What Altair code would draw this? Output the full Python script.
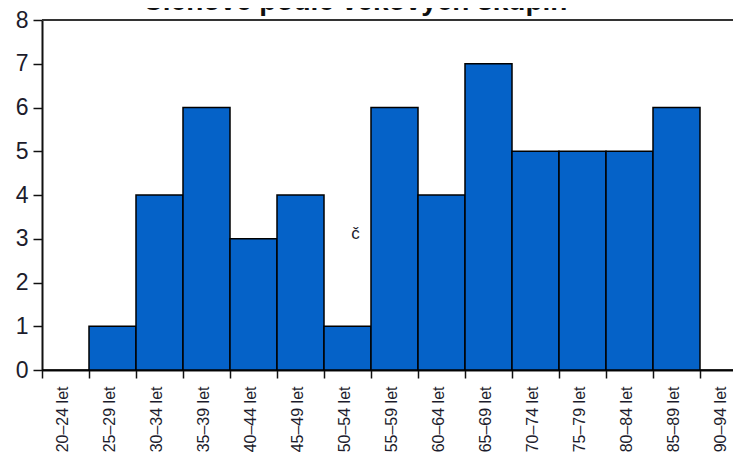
import altair as alt
import pandas as pd

TITLE = "Členové podle věkových skupin"
categories = ["20–24 let", "25–29 let", "30–34 let", "35–39 let", "40–44 let",
              "45–49 let", "50–54 let", "55–59 let", "60–64 let", "65–69 let",
              "70–74 let", "75–79 let", "80–84 let", "85–89 let", "90–94 let"]
values = [0, 1, 4, 6, 3, 4, 1, 6, 4, 7, 5, 5, 5, 6, 0]
y_ticks = [0, 1, 2, 3, 4, 5, 6, 7, 8]

note_text = ["č"]
note_cat = ["50–54 let"]
note_val = [3.0]

df = pd.DataFrame({"cat": categories, "val": values})
notes = pd.DataFrame({"cat": note_cat, "val": note_val, "t": note_text})
title_df = pd.DataFrame({"t": [TITLE]})
top_df = pd.DataFrame({"val": [y_ticks[-1]]})

x_enc = alt.X("cat:N", sort=categories, title=None,
              scale=alt.Scale(paddingInner=0, paddingOuter=0, range=[0, 705]),
              axis=alt.Axis(labelAngle=270, labelAlign="right", labelBaseline="middle",
                            labelFontSize=16, labelFont="Liberation Sans", labelColor="#1c1c2c",
                            labelOffset=-3, labelPadding=8,
                            tickBand="extent", tickSize=8, tickColor="#111", tickWidth=1.5,
                            domainColor="#111", domainWidth=2, labelOverlap=False))
y_enc = alt.Y("val:Q", title=None,
              scale=alt.Scale(domain=[0, 8], nice=False, zero=True),
              axis=alt.Axis(values=y_ticks, grid=False, labelFontSize=23,
                            labelFont="Liberation Sans", labelColor="#1c1c2c",
                            tickSize=9, tickColor="#111", tickWidth=1.5, labelPadding=5,
                            domainColor="#111", domainWidth=2))

bars = alt.Chart(df).mark_bar(color="#0562C8", stroke="#000", strokeWidth=1.5).encode(
    x=x_enc, y=y_enc)

top_line = alt.Chart(top_df).mark_rule(color="#333", strokeWidth=2).encode(
    y=alt.Y("val:Q"), x=alt.value(0), x2=alt.value(705))

note = alt.Chart(notes).mark_text(fontSize=17, font="Liberation Sans", color="#1c1c2c",
                                  baseline="alphabetic", dx=8).encode(
    x=alt.X("cat:N", sort=categories), y=alt.Y("val:Q"), text="t:N")

title = alt.Chart(title_df).mark_text(fontSize=28, font="Liberation Sans", fontWeight="bold",
                                      color="#111", baseline="alphabetic", align="center").encode(
    x=alt.value(313), y=alt.value(-10), text="t:N")

chart = alt.layer(bars, top_line, note, title).properties(
    width=691, height=350,
    autosize=alt.AutoSizeParams(type="none"),
    padding={"left": 34, "top": 12, "right": 0, "bottom": 82},
).configure_view(stroke=None).configure(background="white")

chart.save("out.html", embed_options={"renderer": "svg", "actions": False})
